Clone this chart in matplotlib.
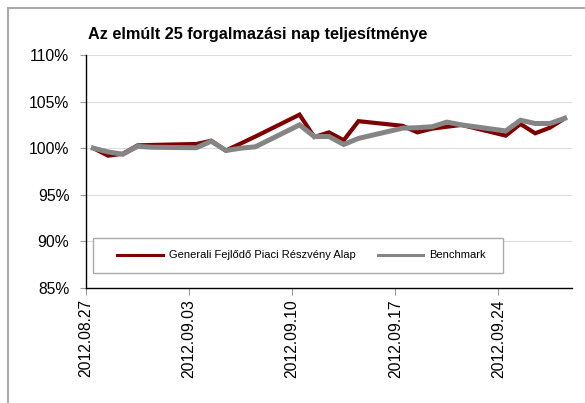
import matplotlib
matplotlib.use("Agg")
import matplotlib.pyplot as plt
import matplotlib.dates as mdates
from matplotlib.ticker import PercentFormatter
from matplotlib.patches import Rectangle
import numpy as np
import datetime as dt

plt.rcParams['font.family'] = ['Liberation Sans', 'DejaVu Sans']

# trading days (weekdays) of the period
days = ["2012-08-27", "2012-08-28", "2012-08-29", "2012-08-30", "2012-08-31",
        "2012-09-03", "2012-09-04", "2012-09-05", "2012-09-06", "2012-09-07",
        "2012-09-10", "2012-09-11", "2012-09-12", "2012-09-13", "2012-09-14",
        "2012-09-17", "2012-09-18", "2012-09-19", "2012-09-20", "2012-09-21",
        "2012-09-24", "2012-09-25", "2012-09-26", "2012-09-27", "2012-09-28"]
fund = [100.0, 99.2, 99.4, 100.3, 100.35,
        100.45, 100.8, 99.75, 100.5, 101.25,
        103.6, 101.2, 101.7, 100.85, 102.9,
        102.4, 101.7, 102.1, 102.3, 102.5,
        101.35, 102.6, 101.6, 102.2, 103.2]
bench = [100.0, 99.6, 99.35, 100.2, 100.1,
         100.05, 100.75, 99.75, 100.0, 100.15,
         102.5, 101.25, 101.25, 100.4, 101.05,
         102.15, 102.2, 102.3, 102.8, 102.5,
         101.85, 103.0, 102.65, 102.65, 103.2]
fund_name = "Generali Fejlődő Piaci Részvény Alap"
bench_name = "Benchmark"
title = "Az elmúlt 25 forgalmazási nap teljesítménye"

# points sit in the middle of their day slot
xs = [dt.datetime.strptime(d, "%Y-%m-%d") + dt.timedelta(hours=12) for d in days]

fig = plt.figure(figsize=(5.85, 4.03), dpi=100)
ax = fig.add_axes([86/585, 1 - 288/403, (572 - 86)/585, (288 - 55)/403])

ax.plot(xs, fund, color="#800000", lw=3.0, solid_joinstyle="miter", label=fund_name, zorder=3)
ax.plot(xs, bench, color="#858585", lw=3.6, solid_joinstyle="miter", label=bench_name, zorder=4)

ax.set_ylim(85, 110)
ax.set_yticks(np.arange(85, 111, 5))
ax.yaxis.set_major_formatter(PercentFormatter(xmax=100, decimals=0))
ax.grid(axis="y", color="#dddddd", lw=0.8)
ax.set_axisbelow(True)

ax.set_xlim(dt.datetime(2012, 8, 27), dt.datetime(2012, 9, 29))
ax.xaxis.set_major_locator(mdates.WeekdayLocator(byweekday=mdates.MO))
ax.xaxis.set_major_formatter(mdates.DateFormatter("%Y.%m.%d"))
plt.setp(ax.get_xticklabels(), rotation=90)

for s in ["top", "right"]:
    ax.spines[s].set_visible(False)
for s in ["left", "bottom"]:
    ax.spines[s].set_color("black")
    ax.spines[s].set_linewidth(1.0)
ax.tick_params(axis="y", labelsize=11.3, length=4, color="#999999", pad=8)
ax.tick_params(axis="x", labelsize=11.3, length=5, color="#999999", pad=3)

# legend box (frame drawn separately)
ax.add_patch(Rectangle(((93 - 86)/486, (288 - 273)/233), (503 - 93)/486, (273 - 238)/233,
                       transform=ax.transAxes, fill=True, facecolor="white",
                       edgecolor="#aaaaaa", lw=1.0, zorder=5))
leg = ax.legend(loc="center left", bbox_to_anchor=((117 - 86)/486, (288 - 255.5)/233),
                ncol=2, fontsize=8, frameon=False,
                handlelength=4.1, handletextpad=0.55, columnspacing=2.0,
                borderaxespad=0, borderpad=0)
leg.set_zorder(6)
for l in leg.get_lines():
    l.set_linewidth(2.2)

fig.text(88/585, 1 - 35/403, title, fontsize=11.7, fontweight="bold", va="center", ha="left")

# outer chart frame
fig.patches.append(Rectangle((8/585, -0.1), 1.2, 1 - 8/403 + 0.1, transform=fig.transFigure,
                             fill=False, edgecolor="#aaaaaa", lw=1.5))

fig.savefig("out.png", dpi=100)
